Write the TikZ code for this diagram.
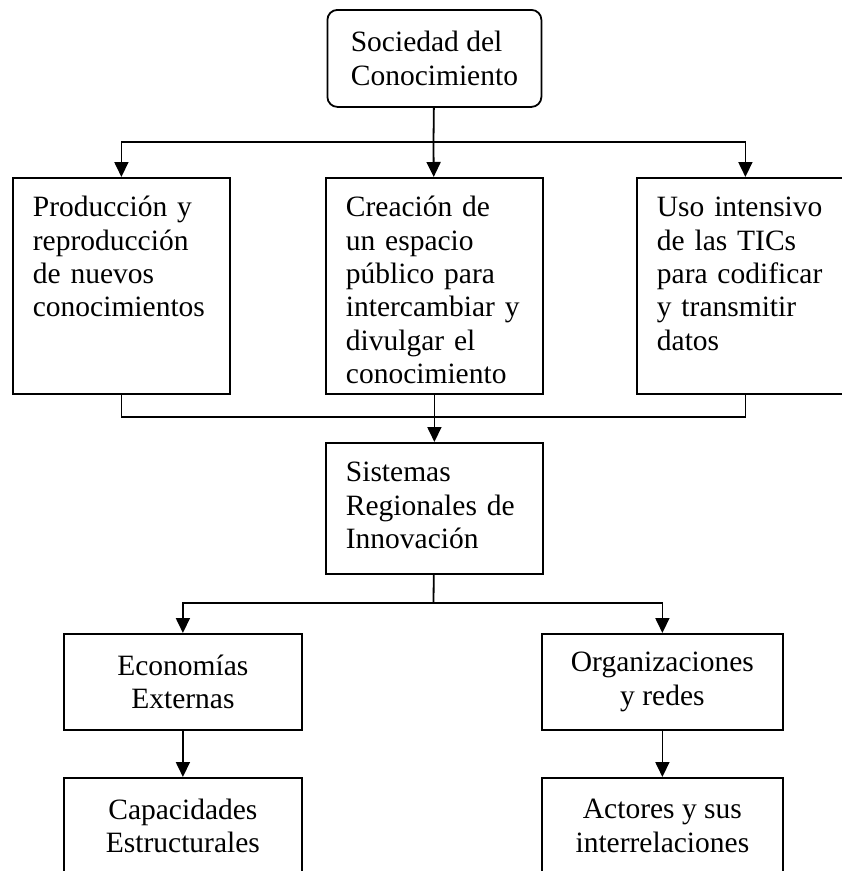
\documentclass[tikz,border=0pt]{standalone}
\usepackage{fontspec}
\setmainfont{Liberation Serif}
\usetikzlibrary{arrows.meta}

\begin{document}
\begin{tikzpicture}[
  x=1pt, y=-1pt,
  font=\fontsize{29.5}{33.3}\selectfont,
  line width=1.8pt,
  box/.style={draw, anchor=north west, inner sep=0pt},
  tbox/.style={box, inner xsep=20pt, text width=177pt, align=left, text height=39pt, text depth=#1},
  tbox/.default=177pt,
  cbox/.style={box, align=center, minimum width=#1, minimum height=96pt},
  cbox/.default=238pt,
  arr/.style={-{Triangle[length=15pt,width=14pt]}},
]
\useasboundingbox (0,0) rectangle (842,871);

% Top
\node[box, rounded corners=10pt, align=left, minimum width=214pt, minimum height=97pt] (soc) at (326.5,9) {Sociedad del\\Conocimiento};

% First row
\node[tbox] (prod) at (12,177) {Producción y\\reproducción\\de nuevos\\conocimientos};
\node[tbox] (crea) at (325,177) {Creación de\\un espacio\\público para\\intercambiar y\\divulgar el\\conocimiento};
\node[tbox] (uso) at (636,177) {Uso intensivo\\de las TICs\\para codificar\\y transmitir\\datos};

% Middle
\node[tbox=92pt] (sis) at (325,442) {Sistemas\\Regionales de\\Innovación};

% Two branches
\node[cbox] (eco) at (63,633) {Economías\\Externas};
\node[cbox=241pt] (org) at (541,633) {Organizaciones\\y redes};
\node[cbox] (cap) at (63,777) {Capacidades\\Estructurales};
\node[cbox=241pt] (act) at (541,777) {Actores y sus\\interrelaciones};

% Junctions
\coordinate (top) at (433.5,142);
\coordinate (mid) at (433.5,417);
\coordinate (low) at (433.5,603);

% Arrows
\draw (soc) -- (top);
\draw[arr] (top) -| (prod);
\draw[arr] (top) -- (crea);
\draw[arr] (top) -| (uso);
\draw (prod) |- (mid) -| (uso);
\draw[arr] (crea) -- (sis);
\draw (sis) -- (low);
\draw[arr] (low) -| (eco);
\draw[arr] (low) -| (org);
\draw[arr] (eco) -- (cap);
\draw[arr] (org) -- (act);
\end{tikzpicture}
\end{document}
